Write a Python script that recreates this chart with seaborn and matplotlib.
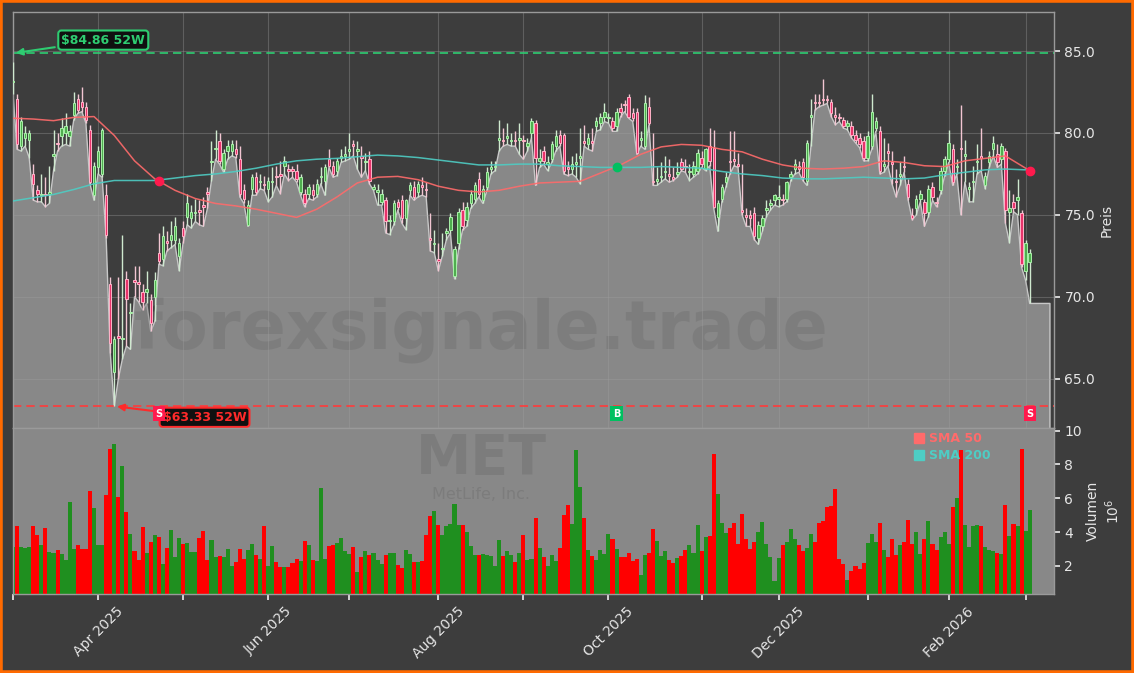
import numpy as np
import pandas as pd
import matplotlib
matplotlib.use("Agg")
import matplotlib.pyplot as plt
import seaborn as sns
from matplotlib.patches import Rectangle
from matplotlib.lines import Line2D
import matplotlib.transforms as mtransforms

# ---------------- data ----------------
ticker = "MET"
company = "MetLife, Inc."
watermark = "forexsignale.trade"
start_date = "2025-03-03"
end_date = "2026-03-03"
holidays = ["2025-04-18", "2025-05-26", "2025-06-19", "2025-07-04", "2025-09-01",
            "2025-11-27", "2025-12-25", "2026-01-01", "2026-01-19", "2026-02-16"]

opens = [83.1, 82.1, 79.2, 79.7, 79.6, 77.5, 76.5, 76.2, 76.3, 76.3,
         78.6, 79.4, 79.8, 80.0, 79.8, 81.1, 82.1, 81.9, 81.6, 80.2,
         76.2, 77.9, 77.5, 76.2, 70.8, 65.4, 67.6, 67.4, 71.1, 69.0,
         71.0, 70.9, 70.3, 70.3, 69.8, 70.0, 72.7, 72.3, 73.4, 73.5,
         73.5, 72.5, 74.2, 74.9, 74.8, 75.1, 75.3, 75.6, 76.4, 78.2,
         79.0, 79.5, 77.8, 78.9, 78.9, 79.0, 78.4, 76.5, 74.4, 76.6,
         77.3, 77.0, 76.9, 76.6, 77.0, 77.4, 77.5, 78.0, 77.8, 77.8,
         77.7, 76.4, 76.3, 76.3, 76.5, 76.3, 77.3, 77.1, 78.4, 78.0,
         77.7, 78.5, 78.6, 78.9, 79.3, 78.9, 78.6, 78.2, 78.4, 76.6,
         76.4, 75.8, 75.9, 74.6, 74.6, 75.8, 75.9, 74.8, 76.5, 76.7,
         76.4, 76.8, 76.6, 73.6, 73.2, 72.3, 72.9, 73.9, 74.1, 71.3,
         73.3, 75.3, 74.7, 75.7, 76.0, 77.2, 75.9, 76.7, 77.8, 77.9,
         79.6, 79.6, 79.7, 79.5, 79.6, 79.6, 79.6, 79.2, 80.0, 80.6,
         78.3, 78.9, 78.1, 78.4, 79.2, 79.9, 79.9, 77.9, 77.8, 78.1,
         78.5, 79.5, 79.3, 79.5, 80.4, 80.6, 81.0, 80.9, 80.7, 80.4,
         81.5, 81.75, 82.2, 81.2, 81.3, 79.6, 79.2, 81.6, 77.1, 77.1,
         77.3, 77.6, 77.5, 77.3, 77.5, 78.2, 78.0, 77.6, 77.5, 77.7,
         78.5, 77.8, 79.2, 79.1, 74.9, 76.0, 77.0, 78.3, 78.4, 78.1,
         75.3, 75.0, 75.0, 75.1, 73.6, 74.3, 75.3, 75.6, 75.9, 76.0,
         76.0, 76.0, 77.3, 77.8, 78.0, 78.2, 77.1, 81.0, 81.9, 81.9,
         82.1, 82.1, 81.9, 81.1, 81.0, 80.8, 80.4, 80.4, 79.9, 79.7,
         79.5, 78.5, 79.2, 80.3, 80.1, 78.0, 78.9, 78.2, 77.1, 77.4,
         78.0, 76.9, 75.0, 75.4, 76.0, 75.8, 75.2, 76.7, 75.8, 76.5,
         77.7, 78.4, 79.0, 77.9, 79.1, 78.6, 76.6, 77.0, 78.2, 78.6,
         76.8, 78.2, 79.0, 78.7, 78.4, 78.9, 75.2, 75.8, 75.9, 75.1,
         71.6, 72.1]
highs = [84.3, 82.4, 81.0, 80.4, 80.2, 78.1, 76.8, 77.5, 77.3, 78.0,
         80.2, 80.0, 80.9, 81.2, 80.5, 82.5, 82.4, 82.8, 81.9, 80.5,
         78.2, 79.2, 80.3, 76.9, 71.2, 67.6, 71.2, 73.8, 71.6, 69.6,
         71.9, 71.9, 70.8, 71.6, 70.2, 71.5, 73.9, 74.3, 74.0, 74.6,
         74.9, 73.6, 74.6, 76.3, 75.6, 76.0, 75.9, 76.1, 76.7, 79.5,
         80.2, 80.0, 79.0, 79.6, 79.6, 79.6, 79.2, 76.9, 75.9, 77.5,
         77.6, 77.5, 77.4, 77.3, 77.9, 78.0, 78.3, 78.6, 78.1, 78.0,
         78.1, 77.5, 76.6, 76.9, 76.9, 77.2, 77.9, 78.1, 79.0, 78.3,
         78.5, 79.0, 79.2, 80.0, 79.6, 79.5, 79.2, 78.8, 78.9, 76.9,
         76.9, 76.6, 76.1, 75.0, 75.9, 76.0, 76.2, 76.0, 77.0, 77.1,
         77.1, 77.3, 77.0, 75.1, 74.1, 73.3, 73.9, 74.2, 75.1, 73.1,
         75.4, 75.8, 75.8, 76.5, 77.0, 77.6, 76.8, 77.9, 78.3, 78.3,
         80.8, 80.3, 80.6, 80.0, 80.1, 80.6, 79.9, 79.7, 80.9, 80.8,
         79.0, 79.2, 78.6, 79.5, 80.2, 80.2, 80.0, 78.3, 78.6, 78.8,
         80.3, 80.5, 80.0, 80.3, 81.0, 81.2, 81.8, 81.2, 81.0, 81.5,
         81.8, 82.0, 82.4, 81.5, 81.5, 80.1, 82.3, 82.2, 80.0, 77.9,
         78.2, 78.6, 78.4, 77.9, 78.2, 78.5, 78.4, 78.1, 78.3, 79.0,
         78.9, 79.1, 80.3, 80.2, 75.9, 76.9, 77.6, 80.1, 80.1, 78.8,
         78.1, 75.4, 75.3, 75.5, 74.6, 75.0, 75.9, 76.0, 76.3, 76.8,
         76.3, 77.1, 77.7, 78.4, 78.3, 78.5, 79.6, 82.1, 82.4, 82.4,
         83.3, 82.3, 82.1, 81.6, 81.2, 81.0, 80.8, 80.7, 80.2, 80.0,
         79.8, 80.1, 82.4, 81.0, 80.4, 79.7, 79.4, 78.9, 77.8, 78.2,
         78.6, 77.2, 75.4, 76.2, 76.5, 76.0, 76.8, 77.0, 76.1, 77.9,
         78.6, 80.2, 79.3, 78.4, 81.7, 79.6, 77.0, 78.0, 79.3, 80.3,
         77.6, 78.9, 79.8, 79.3, 79.4, 79.1, 76.5, 76.3, 77.2, 75.3,
         73.5, 72.9]
lows = [82.4, 79.0, 78.9, 79.2, 78.5, 75.9, 75.8, 75.8, 75.5, 75.7,
        77.7, 78.9, 79.2, 79.3, 79.2, 80.8, 81.2, 81.3, 80.6, 76.9,
        75.9, 77.5, 77.3, 73.6, 66.6, 63.33, 65.0, 66.2, 67.0, 66.8,
        70.0, 69.7, 69.2, 69.6, 67.9, 68.5, 72.0, 71.9, 72.8, 73.0,
        73.2, 71.6, 73.3, 74.4, 74.2, 74.6, 74.4, 74.3, 75.4, 77.1,
        78.4, 78.1, 77.6, 78.4, 78.6, 78.5, 76.1, 75.7, 74.3, 76.2,
        76.2, 76.6, 76.5, 75.8, 76.1, 76.8, 76.3, 77.5, 77.1, 77.3,
        77.0, 76.2, 75.5, 76.0, 75.9, 76.1, 76.9, 76.2, 77.9, 77.3,
        77.4, 78.2, 78.3, 78.4, 78.6, 77.8, 77.3, 77.7, 76.9, 76.5,
        75.6, 75.6, 73.9, 73.8, 74.4, 75.3, 74.5, 74.1, 76.2, 75.9,
        76.1, 76.2, 76.1, 72.8, 72.7, 71.6, 72.5, 73.5, 73.9, 71.1,
        72.9, 74.1, 74.3, 75.4, 75.7, 76.1, 75.7, 76.5, 77.5, 77.7,
        78.9, 79.2, 79.3, 79.2, 79.2, 78.7, 78.4, 78.9, 79.7, 76.8,
        77.9, 78.1, 77.7, 78.2, 78.9, 79.2, 77.5, 77.4, 77.5, 77.3,
        76.9, 79.2, 79.0, 78.9, 80.1, 80.2, 80.7, 80.6, 80.1, 80.1,
        81.0, 81.3, 80.9, 80.7, 78.7, 79.2, 79.0, 80.5, 76.8, 76.8,
        77.0, 77.2, 77.0, 77.1, 77.3, 77.7, 77.6, 77.1, 77.3, 77.5,
        77.9, 77.7, 78.0, 75.4, 74.0, 75.8, 76.7, 77.5, 78.0, 77.9,
        75.0, 74.3, 74.3, 73.5, 73.2, 74.0, 74.9, 75.3, 75.6, 75.5,
        75.6, 75.8, 77.1, 77.5, 77.6, 77.1, 76.8, 79.2, 81.4, 81.6,
        81.7, 81.8, 81.0, 80.5, 80.7, 80.3, 80.2, 79.7, 79.4, 79.1,
        78.3, 78.3, 79.0, 80.1, 77.5, 77.6, 78.0, 76.9, 76.1, 76.8,
        77.6, 75.9, 74.7, 75.0, 75.8, 74.3, 74.9, 75.9, 75.5, 76.3,
        77.4, 78.2, 76.8, 77.5, 75.0, 77.0, 75.8, 75.8, 77.5, 77.7,
        76.6, 77.9, 78.6, 77.9, 78.1, 74.5, 73.3, 75.2, 75.0, 71.8,
        71.0, 69.6]
closes = [83.2, 79.3, 80.7, 80.0, 80.0, 76.9, 76.3, 76.3, 76.2, 76.4,
          78.7, 79.3, 80.3, 80.4, 80.1, 81.8, 81.4, 81.6, 80.8, 77.0,
          78.0, 78.9, 80.2, 73.8, 67.2, 67.4, 67.5, 67.5, 69.9, 69.1,
          70.9, 70.8, 69.7, 70.5, 68.4, 71.0, 72.2, 73.7, 73.3, 73.8,
          74.3, 73.3, 73.7, 75.7, 75.2, 75.2, 75.2, 75.5, 76.3, 78.3,
          79.1, 78.3, 78.8, 79.2, 79.3, 78.7, 76.3, 76.0, 75.6, 77.3,
          76.4, 77.1, 76.8, 77.1, 77.1, 77.3, 77.4, 78.3, 77.7, 77.7,
          77.2, 77.3, 75.7, 76.7, 76.2, 76.9, 77.4, 77.9, 78.0, 77.5,
          78.3, 78.6, 78.7, 79.0, 79.2, 79.0, 78.5, 78.3, 77.1, 76.7,
          76.5, 76.3, 74.6, 74.7, 75.7, 75.5, 74.8, 75.9, 76.8, 76.1,
          76.9, 76.7, 76.5, 73.5, 73.3, 72.2, 73.0, 74.0, 74.9, 72.9,
          75.2, 74.3, 75.5, 76.3, 76.8, 76.3, 76.6, 77.6, 77.9, 78.0,
          79.7, 79.5, 79.8, 79.6, 79.5, 79.7, 79.5, 79.4, 80.7, 78.5,
          78.5, 78.3, 78.2, 79.3, 79.8, 79.4, 77.7, 77.8, 78.1, 78.2,
          78.6, 79.4, 79.7, 79.4, 80.7, 81.0, 81.3, 81.0, 80.3, 81.3,
          81.3, 81.7, 81.0, 80.9, 78.8, 79.7, 81.8, 80.6, 77.0, 77.2,
          77.4, 77.7, 77.4, 77.2, 77.6, 77.8, 77.9, 77.7, 78.0, 78.8,
          78.1, 79.0, 78.3, 75.5, 75.7, 76.7, 77.3, 78.2, 78.3, 78.0,
          75.2, 74.9, 74.8, 73.7, 74.4, 74.8, 75.4, 75.7, 76.2, 76.1,
          75.9, 77.0, 77.5, 78.1, 77.8, 77.3, 79.4, 81.1, 81.8, 81.8,
          82.0, 82.0, 81.2, 81.0, 80.9, 80.4, 80.6, 79.9, 79.6, 79.3,
          78.5, 79.8, 81.3, 80.7, 77.7, 78.1, 78.8, 78.1, 77.0, 77.5,
          77.9, 76.1, 74.8, 76.0, 76.3, 75.1, 76.6, 76.1, 75.7, 77.7,
          78.4, 79.4, 77.0, 78.0, 79.0, 78.7, 76.7, 77.1, 78.3, 78.5,
          77.4, 78.6, 79.4, 78.2, 79.2, 75.3, 75.4, 75.4, 76.1, 72.0,
          73.3, 72.7]
volume_mio = [3.14, 4.37, 3.14, 3.08, 3.14, 4.37, 3.83, 3.24, 4.27, 2.80,
              2.75, 2.94, 2.70, 2.35, 5.75, 3.00, 3.24, 3.00, 3.00, 6.44,
              5.43, 3.24, 3.24, 6.20, 8.93, 9.23, 6.08, 7.92, 5.20, 3.89,
              2.88, 2.35, 4.31, 2.76, 3.42, 3.83, 3.71, 2.10, 3.06, 4.13,
              2.53, 3.65, 3.30, 3.36, 2.83, 2.83, 3.65, 4.07, 2.35, 3.54,
              2.53, 2.59, 2.53, 3.00, 2.00, 2.23, 3.00, 2.41, 2.94, 3.30,
              2.65, 2.41, 4.37, 2.00, 3.18, 2.23, 1.94, 1.94, 1.94, 2.17,
              2.41, 2.29, 3.48, 3.24, 2.35, 2.29, 6.62, 2.41, 3.18, 3.24,
              3.36, 3.65, 2.88, 2.70, 3.12, 1.64, 2.53, 2.88, 2.65, 2.76,
              2.35, 2.10, 2.65, 2.76, 2.76, 2.05, 1.90, 2.94, 2.70, 2.23,
              2.23, 2.29, 3.83, 4.96, 5.25, 4.43, 3.83, 4.37, 4.49, 5.67,
              4.43, 4.43, 4.01, 3.18, 2.65, 2.65, 2.70, 2.65, 2.59, 2.00,
              3.54, 2.59, 2.88, 2.65, 2.23, 2.76, 3.83, 2.35, 2.41, 4.84,
              3.06, 2.53, 2.00, 2.65, 2.29, 3.06, 5.02, 5.61, 4.49, 8.87,
              6.68, 4.84, 2.94, 2.59, 2.35, 2.94, 2.70, 3.89, 3.60, 3.00,
              2.53, 2.53, 2.76, 2.29, 2.41, 1.46, 2.65, 2.76, 4.19, 3.48,
              2.59, 2.88, 2.35, 2.17, 2.47, 2.59, 2.94, 3.24, 2.76, 4.43,
              2.88, 3.71, 3.77, 8.60, 6.26, 4.55, 3.95, 4.25, 4.55, 3.30,
              5.08, 3.60, 3.00, 3.42, 4.01, 4.58, 3.30, 2.55, 1.10, 2.49,
              3.24, 3.44, 4.19, 3.60, 3.24, 2.88, 3.08, 3.89, 3.42, 4.56,
              4.68, 5.47, 5.55, 6.56, 2.41, 2.11, 1.16, 1.70, 2.00, 1.82,
              2.17, 3.36, 3.89, 3.42, 4.54, 2.94, 2.55, 3.60, 2.65, 3.24,
              3.42, 4.72, 3.30, 4.01, 2.70, 3.60, 4.64, 3.30, 2.94, 3.71,
              4.01, 3.30, 5.49, 6.02, 8.87, 4.42, 3.12, 4.36, 4.42, 4.36,
              3.12, 2.94, 2.88, 2.76, 2.70, 5.61, 3.77, 4.48, 4.36, 8.93,
              4.07, 5.31]

# moving averages read every 5th session (last one at the final session)
sma_idx = list(range(0, 251, 5)) + [251]
sma50 = [80.9, 80.85, 80.75, 80.95, 81.0, 79.85, 78.3, 77.2, 76.5, 76.0,
         75.7, 75.55, 75.35, 75.1, 74.85, 75.35, 76.1, 76.95, 77.3, 77.35,
         77.15, 76.75, 76.5, 76.4, 76.5, 76.75, 76.95, 77.0, 77.05, 77.55,
         78.05, 78.7, 79.15, 79.3, 79.25, 79.0, 78.85, 78.4, 78.05, 77.85,
         77.8, 77.85, 77.95, 78.3, 78.2, 78.0, 77.95, 78.3, 78.45, 78.6,
         77.85, 77.7]
sma200 = [75.85, 76.05, 76.25, 76.55, 76.9, 77.1, 77.1, 77.1, 77.25, 77.4,
          77.5, 77.65, 77.85, 78.1, 78.3, 78.4, 78.45, 78.55, 78.65, 78.6,
          78.5, 78.35, 78.2, 78.05, 78.05, 78.1, 78.1, 78.0, 77.95, 77.9,
          77.9, 77.9, 77.95, 77.9, 77.85, 77.65, 77.5, 77.4, 77.25, 77.2,
          77.2, 77.25, 77.3, 77.25, 77.2, 77.25, 77.45, 77.6, 77.75, 77.8,
          77.75, 77.75]

high_52w = 84.86
low_52w = 63.33
signal_idx = [36, 149, 251]
signal_type = ["S", "B", "S"]

# ---------------- style ----------------
BG = "#3d3d3d"
FILL = "#888888"
UP_VOL = "#1f8f1f"
DN_VOL = "#ff0000"
SMA50_C = "#ff6b6b"
SMA200_C = "#4ecdc4"
TXT = "#e6e6e6"

sns.set_theme(style="dark")
plt.rcParams["font.family"] = ["DejaVu Sans"]

O = np.array(opens); H = np.array(highs); L = np.array(lows); C = np.array(closes)
V = np.array(volume_mio)
n = len(O)
x = np.arange(n)
dates = pd.bdate_range(start_date, end_date, freq="C", holidays=holidays)

fig = plt.figure(figsize=(11.34, 6.73), dpi=100, facecolor=BG)
ax = fig.add_axes([13 / 1134, 1 - 428 / 673, 1041 / 1134, 416 / 673])
axv = fig.add_axes([13 / 1134, 1 - 594 / 673, 1041 / 1134, 166 / 673], sharex=ax)
ax.set_facecolor(BG)
axv.set_facecolor(FILL)

# area under the lows (extends a few sessions to the right)
ext = 5
x_fill = np.arange(n + ext)
low_fill = np.concatenate([L, np.repeat(L[-1], ext)])
ax.fill_between(x_fill, low_fill, 0, color=FILL, edgecolor="#c8c8c8", linewidth=1.0, zorder=1)

# watermark
ax.text(0.45, 0.235, watermark, transform=ax.transAxes, ha="center", va="center",
        fontsize=48, fontweight="bold", color="#6e6e6e", alpha=0.4, zorder=1.2)

# grid
ax.set_axisbelow("line")
ax.grid(True, color="#a0a0a0", alpha=0.35, linewidth=0.8)
axv.grid(False)

# candles
up = C >= O
bottom = np.minimum(O, C)
height = np.maximum(np.abs(C - O), 0.03)
ax.vlines(x[up], L[up], H[up], color="#cfe9cf", linewidth=1.0, zorder=3)
ax.vlines(x[~up], L[~up], H[~up], color="#f2c6d2", linewidth=1.0, zorder=3)
ax.bar(x[up], height[up], bottom=bottom[up], width=0.6, color="#4fae4f",
       edgecolor="#a8f0a8", linewidth=0.7, zorder=4)
ax.bar(x[~up], height[~up], bottom=bottom[~up], width=0.6, color="#e8336b",
       edgecolor="#ffb3c8", linewidth=0.7, zorder=4)

# moving averages
sns.lineplot(x=sma_idx, y=sma50, ax=ax, color=SMA50_C, linewidth=1.1, zorder=5, alpha=0.9)
sns.lineplot(x=sma_idx, y=sma200, ax=ax, color=SMA200_C, linewidth=1.1, zorder=5, alpha=0.9)

# 52 week lines + labels
hi_i = int(np.argmax(H)); lo_i = int(np.argmin(L))
ax.axhline(high_52w, color="#2ecc71", linestyle=(0, (5, 3)), linewidth=1.2, zorder=2.5)
ax.axhline(low_52w, color="#ff3b3b", linestyle=(0, (5, 3)), linewidth=1.2, zorder=2.5)
ax.annotate(f"${high_52w:.2f} 52W", xy=(hi_i, high_52w), xytext=(65, 9.5),
            textcoords="offset points", ha="center", va="center", color="#2ecc71",
            fontsize=9, fontweight="bold", zorder=8,
            bbox=dict(boxstyle="round,pad=0.25", fc="#101010", ec="#2ecc71", lw=1.5),
            arrowprops=dict(arrowstyle="-|>", color="#2ecc71", lw=1.5, mutation_scale=10))
ax.annotate(f"${low_52w:.2f} 52W", xy=(lo_i, low_52w), xytext=(65, -8),
            textcoords="offset points", ha="center", va="center", color="#ff2a2a",
            fontsize=9, fontweight="bold", zorder=8,
            bbox=dict(boxstyle="round,pad=0.25", fc="#101010", ec="#ff2a2a", lw=1.5),
            arrowprops=dict(arrowstyle="-|>", color="#ff2a2a", lw=1.5, mutation_scale=10))

# crossover signals
sig_y = np.interp(signal_idx, sma_idx, sma50)
trans = mtransforms.blended_transform_factory(ax.transData, ax.transAxes)
for xi, yi, s in zip(signal_idx, sig_y, signal_type):
    col = "#ff1a4d" if s == "S" else "#00c060"
    ax.plot([xi], [yi], marker="o", markersize=6, color=col, zorder=7, linestyle="None")
    ax.text(xi, 0.034, s, transform=trans, ha="center", va="center", color="white",
            fontsize=7, fontweight="bold", zorder=9,
            bbox=dict(boxstyle="square,pad=0.25", fc=col, ec="none"))

ax.set_xlim(0, n + ext)
ax.set_ylim(low_52w * 0.979, high_52w * 1.0297)
ax.yaxis.tick_right()
ax.yaxis.set_label_position("right")
ax.set_yticks([65, 70, 75, 80, 85])
ax.set_yticklabels([f"{v:.1f}" for v in [65, 70, 75, 80, 85]])
ax.set_ylabel("Preis", color=TXT, fontsize=10, labelpad=3)
ax.tick_params(axis="y", colors=TXT, labelsize=10, length=4, direction="out", right=True)
ax.tick_params(axis="x", labelbottom=False, length=0)

# volume
vcol = np.where(up, UP_VOL, DN_VOL)
axv.bar(x, V, width=1.0, color=vcol, linewidth=0, zorder=2)
axv.set_ylim(min(V) * 0.31, max(V) * 1.1)
axv.yaxis.tick_right()
axv.yaxis.set_label_position("right")
axv.set_yticks([2, 4, 6, 8, 10])
axv.set_ylabel("Volumen\n$10^6$", color=TXT, fontsize=10, labelpad=3)
axv.tick_params(axis="y", colors=TXT, labelsize=10, length=4, direction="out", right=True)

axv.text(0.45, 0.815, ticker, transform=axv.transAxes, ha="center", va="center",
         fontsize=40, fontweight="bold", color="#6e6e6e", alpha=0.45, zorder=1)
axv.text(0.45, 0.60, company, transform=axv.transAxes, ha="center", va="center",
         fontsize=11.5, color="#6e6e6e", alpha=0.45, zorder=1)

handles = [Line2D([], [], marker="s", color=SMA50_C, linestyle="None", markersize=7),
           Line2D([], [], marker="s", color=SMA200_C, linestyle="None", markersize=7)]
leg = axv.legend(handles, ["SMA 50", "SMA 200"], loc="upper left",
                 bbox_to_anchor=(0.858, 1.005), frameon=False, handletextpad=0.2,
                 labelspacing=0.3, borderaxespad=0.0, handlelength=1.2,
                 prop={"weight": "bold", "size": 9}, labelcolor=[SMA50_C, SMA200_C])
leg.set_zorder(10)

# month ticks
month_pos = [i for i in range(n) if i == 0 or dates[i].month != dates[i - 1].month]
month_lab = [dates[i].strftime("%b %Y") if dates[i].month % 2 == 0 else "" for i in month_pos]
axv.set_xticks(month_pos)
axv.set_xticklabels(month_lab, rotation=45, ha="center")
axv.tick_params(axis="x", colors=TXT, labelsize=10, length=4, direction="out", bottom=True)
ax.set_xticks(month_pos)

for a in (ax, axv):
    for sp in a.spines.values():
        sp.set_color("#9a9a9a")
        sp.set_linewidth(1.0)

fig.patches.append(Rectangle((0, 0), 1, 1, transform=fig.transFigure, fill=False,
                             edgecolor="#ff6a00", linewidth=4, zorder=100))

fig.savefig("out.png", dpi=100, facecolor=BG)
